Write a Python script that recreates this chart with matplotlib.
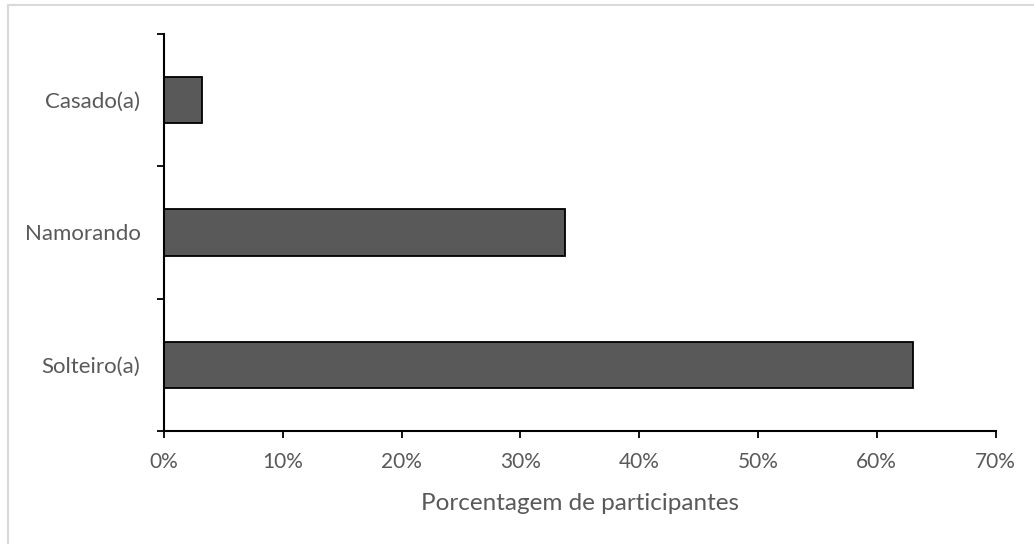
import matplotlib
matplotlib.use("Agg")
import matplotlib.pyplot as plt
from matplotlib.patches import Rectangle
from matplotlib.ticker import FuncFormatter, FixedLocator

# data
categorias = ["Solteiro(a)", "Namorando", "Casado(a)"]
porcentagens = [63.07, 33.75, 3.17]
xticks = [0, 10, 20, 30, 40, 50, 60, 70]

cinza_texto = "#595959"
cor_barra = "#595959"

plt.rcParams["font.family"] = ["Lato", "DejaVu Sans"]

fig = plt.figure(figsize=(10.34, 5.44), dpi=100)
ax = fig.add_axes([164 / 1034, 1 - 431 / 544, (995.6 - 164) / 1034, (431 - 34) / 544])

# light grey frame around the chart area
fig.patches.append(Rectangle((8 / 1034, -0.1), 1.2, 1 - 5 / 544 + 0.1,
                             transform=fig.transFigure, fill=False,
                             edgecolor="#d9d9d9", linewidth=1.5))

y = list(range(len(categorias)))
ax.barh(y, porcentagens, height=0.35, color=cor_barra, edgecolor="black", linewidth=1.3)

ax.set_xlim(0, 70)
ax.set_ylim(-0.5, len(categorias) - 0.5)

ax.set_xticks(xticks)
ax.xaxis.set_major_formatter(FuncFormatter(lambda v, p: f"{v:.0f}%"))
ax.tick_params(axis="x", direction="out", length=5, width=1.3, color="black",
               labelsize=15, labelcolor=cinza_texto, pad=10)

ax.set_yticks(y)
ax.set_yticklabels(categorias)
ax.yaxis.set_minor_locator(FixedLocator([-0.5, 0.5, 1.5, 2.5]))
ax.tick_params(axis="y", which="major", length=0, labelsize=16, labelcolor=cinza_texto, pad=17)
ax.tick_params(axis="y", which="minor", direction="out", length=5, width=1.3, color="black")

for lado in ["top", "right"]:
    ax.spines[lado].set_visible(False)
for lado in ["left", "bottom"]:
    ax.spines[lado].set_linewidth(1.5)
    ax.spines[lado].set_color("black")

ax.set_xlabel("Porcentagem de participantes", fontsize=17.5, color=cinza_texto, labelpad=15)

fig.savefig("out.png", dpi=100, facecolor="white")
